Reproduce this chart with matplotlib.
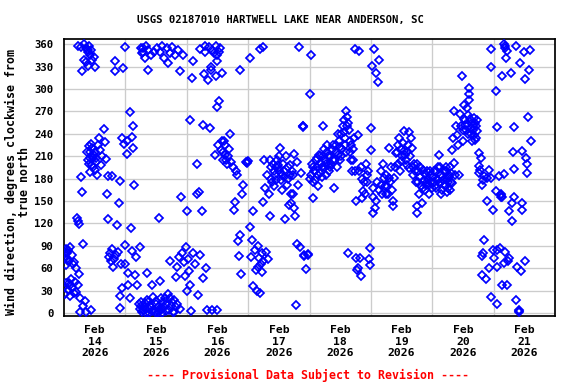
import numpy as np
import pandas as pd
import matplotlib
matplotlib.use("Agg")
import matplotlib.pyplot as plt

# Wind direction readings, hours into each day (local) and degrees from true north
feb14_hours = [0.0, 0.4, 0.8, 0.8, 1.2, 1.6, 1.6, 2.0, 2.3, 2.3, 2.7, 3.1, 3.1, 3.5, 3.9, 3.9, 4.3, 4.7, 4.7,
               5.1, 5.5, 5.5, 5.5, 5.9, 5.9, 6.3, 6.3, 6.6, 6.6, 7.0, 7.0, 7.4, 7.4, 7.8, 7.8, 8.2, 8.6, 8.6,
               8.6, 9.4, 9.4, 9.4, 9.8, 10.2, 10.2, 10.2, 10.6, 10.9, 10.9, 10.9, 11.3, 11.7, 11.7, 12.1, 12.1,
               12.5, 12.9, 13.3, 13.7, 14.1, 14.5, 14.9, 15.6, 16.0, 16.4, 16.8, 17.1, 17.2, 17.6, 18.0, 18.4,
               18.8, 18.8, 19.2, 19.5, 19.9, 19.9, 20.3, 20.7, 21.1, 21.5, 21.9, 21.9, 21.9, 22.3, 22.7, 22.7,
               23.1, 23.5, 23.8, 23.8, 23.8,
               9.0, 9.6, 10.0, 10.4, 11.0, 11.5, 12.3, 12.7, 9.2, 9.8, 10.5, 0.2, 0.6, 1.0, 1.4, 2.5, 1.8, 0.4]
feb14_deg = [35, 74, 64, 40, 80, 84, 31, 70, 88, 23, 45, 78, 34, 66, 68, 27, 42, 60, 28,
             127, 123, 38, 358, 119, 52, 20, 2, 182, 356, 162, 324, 92, 9, 360, 339, 16, 355, 336,
             1, 205, 350, 331, 224, 216, 189, 346, 4, 221, 198, 339, 208, 212, 343, 192, 330,
             202, 185, 225, 235, 218, 198, 210, 247, 229, 206, 159, 126, 183, 75, 80, 70,
             86, 183, 62, 72, 338, 324, 78, 118, 82, 147, 177, 23, 7, 66, 235, 33,
             328, 227, 356, 91, 65,
             215, 200, 208, 226, 210, 195, 215, 208, 352, 357, 352, 80, 86, 72, 70, 38, 40, 26]

feb15_hours = [0.6, 1.0, 1.0, 1.8, 1.9, 2.2, 2.6, 2.6, 3.0, 3.4, 3.8, 4.2, 4.5, 5.3, 5.7, 5.7, 6.1, 6.5, 6.5,
               6.9, 7.3, 7.7, 8.1, 8.5, 8.5, 8.8, 8.8, 9.2, 9.6, 10.0, 10.4, 10.4, 10.8, 11.2, 11.6, 12.0,
               12.4, 12.7, 13.1, 13.1, 13.5, 13.5, 13.9, 14.3, 14.7, 15.1, 15.5, 15.9, 16.3, 16.7, 16.7,
               17.1, 17.4, 17.4, 17.8, 18.2, 18.6, 19.0, 19.4, 19.8, 19.8, 20.2, 20.6, 21.0, 21.4, 21.4,
               21.7, 22.1, 22.5, 22.9, 23.3, 23.7,
               6.0, 6.8, 7.5, 8.0, 9.0, 9.4, 10.2, 11.0, 11.8, 12.2, 6.2, 7.0, 7.9, 14.0, 15.0, 16.0,
               13.7, 14.5, 17.6, 18.4, 19.2, 20.0, 0.5, 2.8]
feb15_deg = [213, 54, 38, 20, 269, 114, 236, 83, 221, 172, 51, 75, 38, 12, 88, 5, 15, 348, 2,
             355, 8, 342, 0, 54, 18, 352, 326, 5, 10, 345, 38, 3, 22, 350, 1, 12,
             355, 8, 127, 2, 43, 350, 6, 358, 15, 342, 20, 3, 355, 335, 25,
             4, 70, 348, 10, 356, 2, 18, 345, 48, 8, 62, 352, 75, 324, 5,
             156, 80, 346, 68, 49, 88,
             10, 4, 14, 6, 15, 0, 8, 4, 16, 0, 355, 350, 358, 20, 8, 12,
             4, 0, 20, 15, 2, 12, 230, 250]

feb16_hours = [0.1, 0.1, 0.5, 0.9, 1.3, 1.3, 1.7, 2.0, 2.4, 2.4, 3.2, 4.0, 4.0, 4.4, 4.8, 5.2, 5.2, 6.0,
               6.3, 6.3, 6.7, 7.1, 7.5, 7.9, 8.3, 8.7, 9.1, 9.5, 9.9, 10.6, 11.0, 11.4, 11.8, 11.8, 12.2,
               12.6, 13.0, 13.4, 13.8, 14.2, 14.6, 14.9, 15.7, 16.5, 16.9, 17.3, 18.1, 18.5, 18.9, 19.3,
               19.6, 20.0, 20.4, 20.8, 20.8, 21.2, 21.6, 22.0, 23.2, 23.4, 23.6, 23.8,
               14.0, 15.0, 15.3, 16.0, 13.7, 11.5, 12.0, 12.8, 10.0, 7.3, 9.6, 11.7]
feb16_deg = [137, 30, 72, 56, 258, 38, 3, 315, 338, 80, 65, 199, 159, 24, 162, 353, 78, 137,
             252, 47, 320, 350, 60, 4, 312, 356, 248, 330, 4, 348, 211, 318, 276, 4, 225,
             284, 355, 218, 322, 205, 230, 212, 199, 220, 240, 202, 195, 138, 149, 190,
             185, 96, 76, 105, 326, 52, 159, 172, 202, 202, 201, 203,
             215, 225, 205, 210, 230, 358, 345, 350, 352, 358, 325, 338]

feb17_hours = [0.7, 0.7, 1.1, 1.5, 1.9, 1.9, 2.7, 3.5, 3.9, 4.2, 4.6, 4.6, 5.0, 5.4, 5.8, 5.8, 6.2, 6.6,
               7.0, 7.4, 7.8, 8.2, 8.5, 8.9, 9.3, 10.1, 10.9, 11.7, 12.4, 12.8, 13.2, 13.6, 14.0, 14.4,
               14.8, 15.2, 15.6, 16.0, 16.4, 16.7, 17.5, 17.9, 18.3, 18.7, 19.1, 19.5, 19.9, 20.3, 20.7,
               21.4, 21.5, 21.6, 21.8, 21.9, 22.6, 23.4, 23.5,
               9.7, 10.5, 11.3, 12.0, 13.0, 10.3, 11.0, 12.2, 13.4, 14.2, 9.0, 8.7, 15.4, 16.2, 17.0,
               17.6, 5.6, 6.0, 4.0, 3.2, 16.9, 18.0, 19.0]
feb17_deg = [341, 115, 75, 98, 136, 36, 85, 29, 90, 74, 353, 27, 65, 55, 149, 356, 205, 168,
             82, 185, 72, 160, 130, 195, 175, 190, 178, 198, 221, 188, 165, 200, 182, 126,
             210, 172, 195, 145, 185, 160, 159, 213, 130, 11, 93, 172, 356, 88, 188,
             250, 249, 251, 78, 77, 59, 78, 79,
             200, 185, 205, 192, 178, 170, 195, 210, 185, 190, 180, 205, 180, 198, 190,
             185, 80, 70, 62, 58, 148, 140, 202]

feb18_hours = [0.2, 0.6, 0.6, 1.0, 1.4, 1.7, 2.1, 2.5, 2.9, 3.3, 3.7, 4.1, 4.5, 4.9, 5.3, 5.3, 5.7, 6.1,
               6.4, 6.8, 7.2, 7.6, 8.0, 8.4, 8.8, 9.6, 10.0, 10.3, 10.7, 11.1, 11.5, 11.9, 12.3, 12.7,
               13.1, 13.5, 13.9, 14.3, 14.3, 14.6, 15.0, 15.4, 15.8, 16.2, 16.6, 17.0, 17.4, 17.8, 17.8,
               18.2, 18.2, 18.6, 18.9, 18.9, 19.3, 19.3, 19.7, 20.1, 20.5, 20.9, 21.3, 22.1, 22.5, 22.9,
               23.2, 23.6, 23.6,
               1.2, 2.3, 3.0, 3.5, 4.3, 5.0, 5.5, 6.3, 7.0, 7.4, 8.2, 9.0, 9.3, 10.5, 11.3, 12.0, 12.5,
               13.3, 14.0, 14.8, 15.2, 16.0, 0.3, 1.5, 16.4, 17.2, 20.0, 20.7, 21.6, 22.3]
feb18_deg = [293, 185, 346, 200, 154, 190, 178, 205, 195, 170, 212, 188, 200, 182, 250, 210, 195, 205,
             185, 215, 198, 190, 210, 200, 218, 167, 205, 225, 195, 212, 230, 205, 240, 220,
             250, 258, 235, 270, 215, 262, 81, 245, 230, 205, 190, 220, 234, 190, 353,
             150, 74, 57, 239, 60, 190, 351, 74, 50, 154, 163, 176, 199, 176, 190,
             72, 87, 64,
             195, 190, 208, 185, 210, 195, 220, 200, 225, 210, 195, 205, 225, 215, 240, 222, 210,
             242, 225, 250, 255, 215, 180, 175, 225, 205, 195, 180, 160, 185]

feb19_hours = [0.0, 0.0, 0.4, 0.8, 0.8, 1.2, 1.6, 2.0, 2.4, 2.8, 3.2, 3.9, 3.9, 4.7, 5.1, 5.9, 6.3, 7.1,
               7.1, 7.9, 8.6, 9.0, 9.8, 10.6, 11.0, 11.4, 11.8, 12.2, 12.9, 12.9, 13.7, 14.5, 14.9, 14.9,
               15.7, 16.1, 16.5, 16.9, 17.6, 18.0, 18.4, 18.8, 19.2, 19.6, 20.0, 20.4, 20.8, 21.1, 21.5,
               21.9, 22.3, 22.7, 23.1, 23.5, 23.9,
               1.0, 1.9, 3.0, 4.3, 5.5, 6.0, 6.7, 7.5, 8.2, 9.4, 10.2, 10.8, 11.6, 12.5, 13.3, 14.0,
               14.2, 15.3, 16.3, 17.2, 17.9, 18.6, 19.4, 20.2, 21.0, 22.0, 22.9, 23.3, 8.8, 18.2]
feb19_deg = [248, 218, 331, 167, 134, 353, 141, 322, 176, 309, 339, 190, 172, 199, 181, 159, 170, 221,
             181, 195, 150, 181, 214, 200, 234, 190, 203, 210, 244, 217, 205, 225, 243, 194,
             234, 221, 185, 200, 175, 134, 190, 159, 182, 170, 147, 192, 178, 165, 172,
             190, 180, 160, 185, 175, 168,
             155, 150, 165, 160, 170, 185, 160, 175, 165, 195, 215, 225, 220, 228, 212, 215,
             198, 210, 195, 190, 200, 175, 195, 168, 186, 175, 172, 190, 143, 143]

feb20_hours = [0.3, 0.7, 1.1, 1.4, 1.8, 2.2, 2.6, 3.0, 3.4, 3.8, 4.2, 4.6, 5.0, 5.4, 5.7, 6.1, 6.5, 6.9,
               7.3, 7.7, 7.7, 8.1, 8.5, 8.5, 8.9, 9.3, 9.7, 10.1, 10.4, 10.8, 11.2, 11.6, 12.0, 12.4,
               12.8, 13.2, 13.6, 14.0, 14.3, 14.3, 14.7, 15.1, 15.5, 15.9, 16.3, 16.3, 16.7, 17.1, 17.5,
               17.5, 18.3, 18.3, 18.3, 19.0, 19.4, 19.4, 19.4, 19.8, 20.2, 20.2, 21.0, 21.4, 21.4, 22.1,
               22.1, 22.9, 22.9, 22.9, 22.9, 23.7, 23.7,
               0.5, 1.5, 2.4, 3.2, 4.0, 4.8, 5.2, 6.0, 6.7, 7.0, 7.5, 3.6, 5.6, 12.6, 13.0, 13.8, 15.3,
               15.7, 16.0, 17.0, 16.8, 14.5, 12.2, 18.8, 19.9]
feb20_deg = [182, 190, 170, 167, 180, 195, 212, 175, 185, 165, 178, 190, 172, 190, 180, 168, 185, 195,
             175, 219, 174, 234, 270, 201, 185, 250, 239, 225, 185, 266, 250, 318, 230, 279,
             252, 245, 275, 240, 302, 293, 260, 248, 230, 250, 261, 239, 255, 235, 259,
             244, 214, 197, 188, 208, 172, 77, 51, 80, 183, 98, 46, 181, 150, 192,
             60, 181, 353, 330, 21, 138, 84,
             175, 190, 178, 195, 182, 170, 195, 176, 182, 165, 188, 160, 162, 260, 258, 265, 240,
             255, 245, 250, 232, 285, 245, 192, 178]

feb21_hours = [0.1, 0.9, 0.9, 1.3, 1.3, 1.3, 2.1, 2.5, 2.8, 3.2, 3.2, 4.0, 4.0, 4.4, 4.8, 5.2, 5.2, 6.0,
               6.0, 6.7, 7.1, 7.1, 7.5, 7.9, 7.9, 7.9, 8.7, 8.7, 9.1, 9.9, 10.3, 10.7, 11.1, 11.1, 11.1,
               11.9, 12.2, 12.2, 12.6, 13.0, 13.0, 13.4, 13.8, 14.2, 14.6,
               4.2, 4.6, 2.9, 3.0, 3.1, 1.5, 4.3, 5.6, 9.9, 10.1]
feb21_deg = [74, 163, 298, 249, 61, 12, 183, 87, 156, 318, 37, 186, 67, 358, 341, 351, 38, 136,
             74, 322, 147, 123, 216, 249, 193, 155, 358, 18, 61, 3, 335, 56, 217, 147, 138,
             349, 314, 69, 208, 199, 188, 263, 326, 352, 230,
             360, 355, 160, 158, 155, 84, 82, 70, 1, 4]

days = ["2026-02-14", "2026-02-15", "2026-02-16", "2026-02-17",
        "2026-02-18", "2026-02-19", "2026-02-20", "2026-02-21"]
day_hours = [feb14_hours, feb15_hours, feb16_hours, feb17_hours,
             feb18_hours, feb19_hours, feb20_hours, feb21_hours]
day_deg = [feb14_deg, feb15_deg, feb16_deg, feb17_deg,
           feb18_deg, feb19_deg, feb20_deg, feb21_deg]

yticks = list(range(0, 361, 30))
xtick_labels = ["Feb\n14\n2026", "Feb\n15\n2026", "Feb\n16\n2026", "Feb\n17\n2026",
                "Feb\n18\n2026", "Feb\n19\n2026", "Feb\n20\n2026", "Feb\n21\n2026"]

times = []
values = []
for day, hrs, deg in zip(days, day_hours, day_deg):
    times.append(pd.Timestamp(day) + pd.to_timedelta(np.array(hrs), unit="h"))
    values.extend(deg)
times = pd.DatetimeIndex(np.concatenate([t.values for t in times]))

plt.rcParams["font.family"] = ["DejaVu Sans Mono"]
plt.rcParams["font.weight"] = "bold"

fig = plt.figure(figsize=(6, 4), dpi=96)
ax = fig.add_axes([64 / 576, 1 - 316 / 384, 491 / 576, 277 / 384])

ax.plot(times, values, linestyle="none", marker="D", mfc="none", mec="#0000ff",
        ms=3.9, mew=1.3, zorder=3)

start = pd.Timestamp(days[0])
ax.set_xlim(start, start + pd.Timedelta(days=8))
ax.set_ylim(-4, 367)

noon = [pd.Timestamp(d) + pd.Timedelta(hours=12) for d in days]
midnights = [start + pd.Timedelta(days=i) for i in range(1, 8)]
ax.set_xticks(noon)
ax.set_xticklabels(xtick_labels, fontsize=8.5, fontweight="bold", linespacing=1.15)
ax.set_xticks(midnights, minor=True)
ax.set_yticks(yticks)
ax.set_yticklabels([str(v) for v in yticks], fontsize=8, fontweight="bold")
ax.tick_params(axis="both", which="both", length=0)
ax.tick_params(axis="y", pad=8)
ax.tick_params(axis="x", pad=7)

ax.xaxis.grid(True, which="minor", color="#cccccc", lw=1)
ax.yaxis.grid(True, which="major", color="#cccccc", lw=1)
ax.set_axisbelow(True)
for s in ax.spines.values():
    s.set_linewidth(1.3)
    s.set_color("black")

fig.text(280 / 576, 1 - 20 / 384, "USGS 02187010 HARTWELL LAKE NEAR ANDERSON, SC",
         ha="center", va="center", fontsize=8, fontweight="bold")
fig.text(18 / 576, 1 - 182 / 384, "Wind direction, degrees clockwise from\ntrue north",
         ha="center", va="center", rotation=90, fontsize=8.7, fontweight="bold", linespacing=1.0)
fig.text(308 / 576, 1 - 375 / 384, "---- Provisional Data Subject to Revision ----",
         ha="center", va="center", fontsize=8.7, fontweight="bold", color="#ff0000")

fig.savefig("out.png", dpi=96)
